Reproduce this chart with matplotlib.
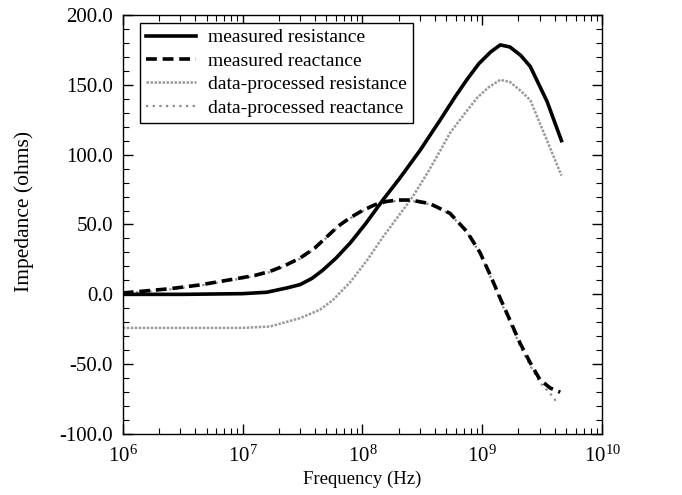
import numpy as np
import matplotlib
matplotlib.use("Agg")
from matplotlib import pyplot as plt
from matplotlib import ticker

plt.rcParams['font.family'] = ['Liberation Serif', 'DejaVu Serif']
plt.rcParams['mathtext.fontset'] = 'stix'
plt.rcParams['axes.unicode_minus'] = False

# log10(frequency in Hz) and impedance values
r_meas_logf = [6.0, 6.5, 7.0, 7.2, 7.37, 7.48, 7.58, 7.67, 7.78, 7.9, 8.03, 8.17,
               8.31, 8.48, 8.65, 8.77, 8.87, 8.97, 9.07, 9.15, 9.23, 9.32, 9.40,
               9.54, 9.66]
r_meas = [0.0, 0.0, 0.5, 1.5, 4.6, 7.0, 11.5, 17.4, 26.0, 37.0, 51.0, 67.5,
          83.0, 103.0, 125.0, 141.0, 153.5, 165.0, 173.5, 178.5, 177.0, 171.0, 163.0,
          138.0, 110.0]

x_meas_logf = [6.0, 6.39, 6.64, 6.98, 7.1, 7.23, 7.35, 7.48, 7.6, 7.7, 7.8, 7.9,
               8.0, 8.1, 8.2, 8.3, 8.4, 8.56, 8.73, 8.87, 8.98, 9.065, 9.148, 9.23,
               9.315, 9.40, 9.48, 9.566, 9.65]
x_meas = [1.0, 4.0, 6.7, 11.7, 13.5, 16.5, 20.5, 26.0, 33.0, 41.0, 49.0, 55.0,
          60.0, 64.0, 66.5, 67.5, 67.5, 65.0, 58.0, 45.0, 30.0, 14.0, -2.6, -18.4,
          -35.0, -49.0, -61.0, -67.0, -70.0]

r_proc_logf = [6.0, 6.5, 7.0, 7.23, 7.48, 7.645, 7.754, 7.9, 8.04, 8.17, 8.3,
               8.42, 8.55, 8.65, 8.73, 8.85, 8.956, 9.05, 9.148, 9.23, 9.315,
               9.40, 9.54, 9.66]
r_proc = [-24.0, -24.0, -24.0, -23.0, -17.0, -11.0, -4.0, 9.0, 24.6, 41.0, 56.0,
          70.0, 88.0, 103.0, 115.5, 129.0, 140.6, 148.0, 153.5, 152.0, 146.0,
          139.0, 110.0, 85.0]

x_proc_logf = [6.0, 6.39, 6.64, 6.98, 7.1, 7.23, 7.35, 7.48, 7.6, 7.7, 7.8, 7.9,
               8.0, 8.1, 8.2, 8.3, 8.4, 8.56, 8.73, 8.87, 8.98, 9.065, 9.148, 9.23,
               9.315, 9.40, 9.48, 9.566, 9.62]
x_proc = [0.5, 3.5, 6.2, 11.2, 13.0, 16.0, 20.0, 25.5, 32.5, 40.5, 48.5, 54.5,
          59.5, 63.5, 66.0, 67.0, 67.0, 64.5, 57.5, 44.5, 29.5, 13.0, -4.0, -20.0,
          -37.0, -51.0, -63.0, -71.0, -77.0]

labels = ["measured resistance", "measured reactance",
          "data-processed resistance", "data-processed reactance"]

fig = plt.figure(figsize=(6.82, 4.95), dpi=100)
ax = fig.add_axes([0.180, 0.123, 0.703, 0.847])

ax.plot(10 ** np.array(x_proc_logf), x_proc, color='#8a8a8a', lw=1.6,
        linestyle=(0, (1.0, 2.0)), label=labels[3], zorder=2)
ax.plot(10 ** np.array(r_meas_logf), r_meas, color='black', lw=2.6,
        linestyle='-', label=labels[0], zorder=3)
ax.plot(10 ** np.array(x_meas_logf), x_meas, color='black', lw=2.6,
        linestyle=(0, (3.0, 1.6)), label=labels[1], zorder=3)
ax.plot(10 ** np.array(r_proc_logf), r_proc, color='#9a9a9a', lw=1.8,
        linestyle=(0, (1.0, 0.6)), label=labels[2], zorder=2)

ax.set_xscale('log')
ax.set_xlim(1e6, 1e10)
ax.set_ylim(-100, 200)

ax.yaxis.set_major_locator(ticker.MultipleLocator(50))
ax.yaxis.set_minor_locator(ticker.MultipleLocator(10))
ax.yaxis.set_major_formatter(ticker.FormatStrFormatter('%.1f'))
ax.xaxis.set_major_locator(ticker.LogLocator(base=10, numticks=10))
ax.xaxis.set_minor_locator(ticker.LogLocator(base=10, subs=np.arange(2, 10), numticks=20))
ax.xaxis.set_minor_formatter(ticker.NullFormatter())

ax.tick_params(which='both', direction='in', top=True, right=True)
ax.tick_params(axis='y', labelsize=15, pad=7)
ax.tick_params(axis='x', labelsize=15, pad=8)
ax.tick_params(which='major', length=7, width=1)
ax.tick_params(which='minor', length=4, width=0.8)
for s in ax.spines.values():
    s.set_linewidth(1.0)

ax.set_xlabel("Frequency (Hz)", fontsize=13.5, labelpad=3)
ax.set_ylabel("Impedance (ohms)", fontsize=15.5)
ax.yaxis.set_label_coords(-0.186, 0.53)

h, l = ax.get_legend_handles_labels()
order = [1, 2, 3, 0]
leg = ax.legend([h[i] for i in order], [l[i] for i in order], loc='upper left',
                bbox_to_anchor=(0.028, 0.99), fontsize=14, frameon=True,
                fancybox=False, edgecolor='black', framealpha=1,
                handlelength=2.6, labelspacing=0.3, borderpad=0.3,
                handletextpad=0.6, borderaxespad=0.2)
leg.get_frame().set_linewidth(1.0)

fig.savefig("out.png", dpi=100)
